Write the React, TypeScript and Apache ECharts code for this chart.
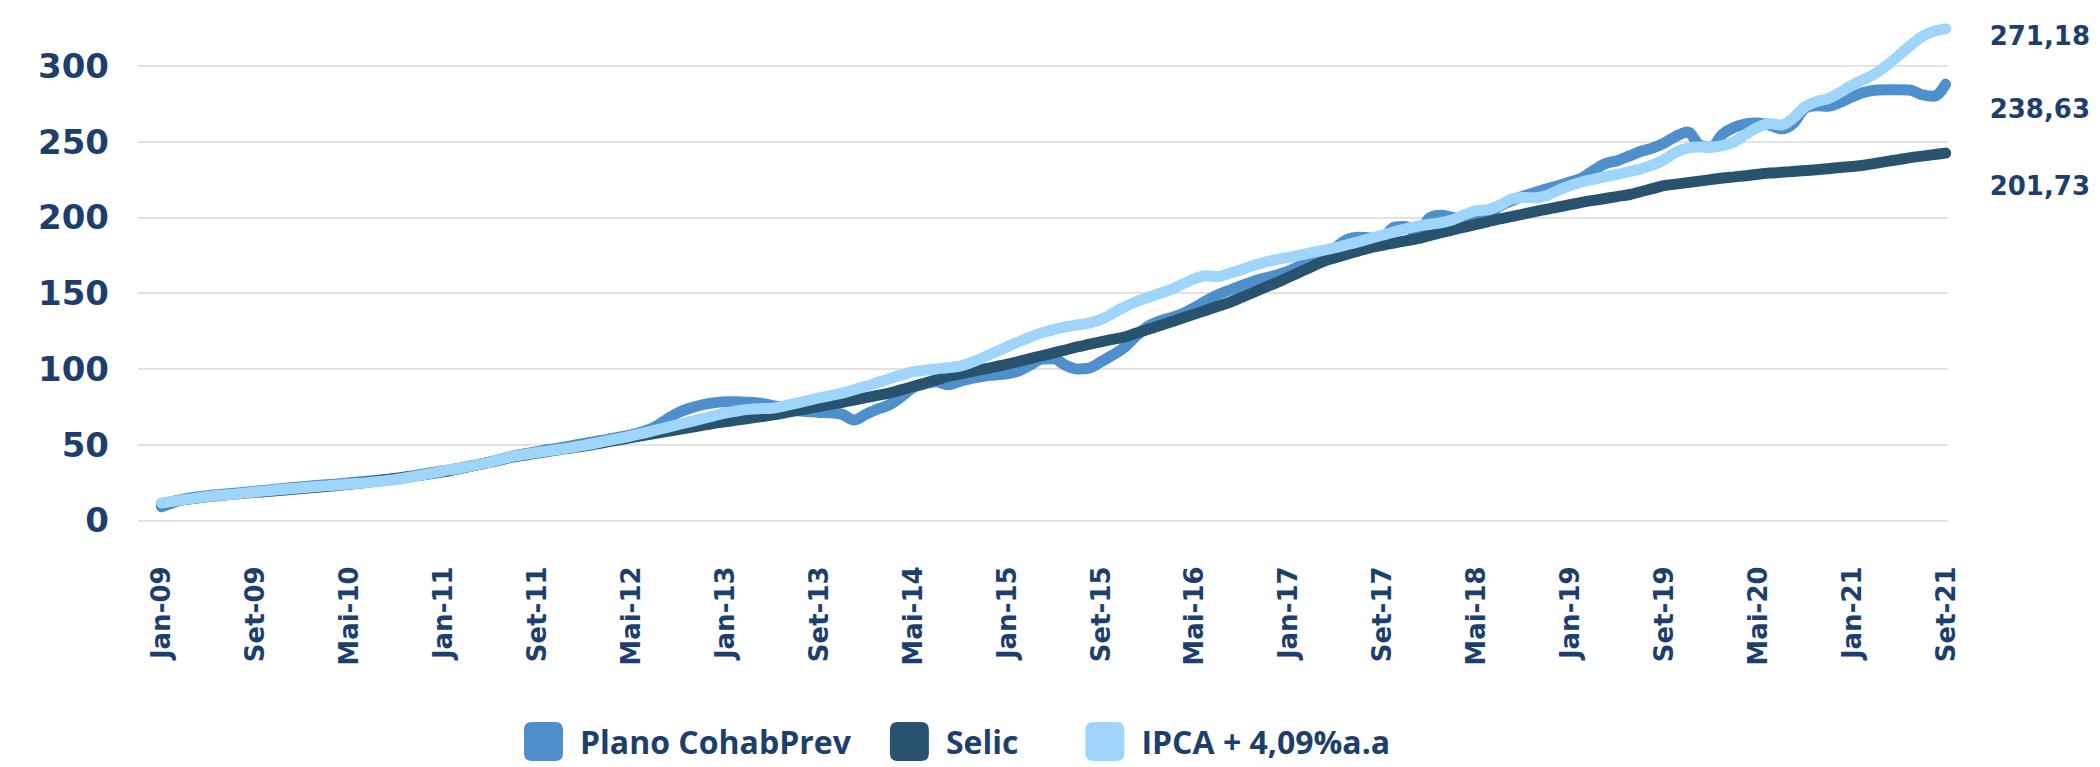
import React, { useEffect, useRef } from "react";
import * as echarts from "echarts";

// Month index 0 = Jan-09 ... 152 = Set-21
const seriesNames = ["Plano CohabPrev", "Selic", "IPCA + 4,09%a.a"];
const seriesColors = ["#4f8fcb", "#28536f", "#a0d5fb"];
const endLabels = ["238,63", "201,73", "271,18"];

const xTickMonths = [0, 8, 16, 24, 32, 40, 48, 56, 64, 72, 80, 88, 96, 104, 112, 120, 128, 136, 144, 152];
const xTickLabels = [
  "Jan-09", "Set-09", "Mai-10", "Jan-11", "Set-11", "Mai-12", "Jan-13", "Set-13", "Mai-14", "Jan-15",
  "Set-15", "Mai-16", "Jan-17", "Set-17", "Mai-18", "Jan-19", "Set-19", "Mai-20", "Jan-21", "Set-21",
];
const yTicks = [0, 50, 100, 150, 200, 250, 300];

const cohabPrev = [
  9.0, 11.8, 14.2, 15.5, 16.4, 17.1, 17.8, 18.5, 19.3, 20.0, 20.8, 21.5, 22.2, 22.9, 23.5, 24.1, 24.8, 25.5, 26.2, 27.0,
  27.8, 29.0, 30.2, 31.5, 32.8, 34.0, 35.4, 36.9, 38.6, 40.6, 42.6, 44.0, 45.4, 46.8, 48.0, 49.4, 50.8, 52.2, 53.5, 55.0,
  56.5, 58.5, 61.5, 66.5, 71.0, 74.0, 76.2, 77.6, 78.3, 78.4, 78.0, 77.3, 76.0, 74.3, 72.7, 71.8, 71.3, 71.0, 70.0, 66.3,
  70.0, 73.5, 76.2, 81.5, 87.5, 90.0, 91.5, 89.6, 91.8, 93.8, 95.2, 96.0, 96.8, 98.5, 102.5, 106.5, 106.8, 102.5, 100.0, 100.5,
  104.5, 109.0, 114.0, 121.5, 128.0, 131.5, 133.8, 136.5, 140.5, 145.0, 149.0, 152.0, 155.0, 157.8, 160.0, 162.0, 164.5, 168.0, 172.0, 176.0,
  180.0, 185.5, 187.0, 186.5, 186.5, 193.5, 194.0, 188.5, 199.5, 201.5, 200.0, 198.5, 197.5, 201.5, 207.5, 211.0, 214.0, 216.5, 218.8, 221.0,
  223.5, 226.0, 231.0, 235.5, 237.5, 240.5, 243.5, 245.8, 249.0, 253.5, 256.5, 248.0, 246.5, 255.0, 259.5, 261.8, 262.3, 261.0, 258.5, 262.0,
  272.0, 273.8, 273.5, 276.0, 279.5, 282.5, 284.0, 284.3, 284.3, 284.0, 281.0, 280.0, 288.0,
];

const selic = [
  11.0, 12.5, 13.8, 14.8, 15.7, 16.5, 17.2, 17.9, 18.5, 19.1, 19.7, 20.4, 21.0, 21.7, 22.4, 23.1, 23.8, 24.7, 25.7, 26.7,
  27.7, 28.7, 29.8, 30.9, 32.0, 33.6, 35.2, 36.8, 38.5, 40.2, 42.0, 43.2, 44.4, 45.6, 46.8, 48.0, 49.0, 50.4, 51.8, 53.2,
  54.6, 56.0, 57.3, 58.6, 60.0, 61.3, 62.6, 64.0, 65.1, 66.2, 67.3, 68.4, 69.5, 70.9, 72.3, 73.7, 75.2, 76.6, 78.0, 79.5,
  81.0, 82.5, 84.0, 86.2, 88.4, 90.6, 92.8, 95.0, 96.6, 98.2, 99.8, 101.4, 103.0, 104.9, 106.8, 108.7, 110.6, 112.5, 114.5, 116.2,
  117.9, 119.5, 121.0, 123.5, 126.0, 128.5, 131.0, 133.6, 136.2, 138.8, 141.4, 144.0, 147.2, 150.5, 153.8, 157.0, 160.5, 164.0, 167.5, 171.0,
  173.4, 175.7, 177.9, 180.0, 181.6, 183.1, 184.6, 186.0, 188.0, 189.9, 191.8, 193.6, 195.4, 197.2, 199.0, 200.6, 202.2, 203.8, 205.4, 206.9,
  208.5, 210.0, 211.3, 212.5, 213.8, 215.0, 217.0, 219.0, 221.0, 222.0, 223.0, 224.0, 225.0, 226.0, 226.8, 227.6, 228.5, 229.3, 229.8, 230.4,
  231.0, 231.5, 232.2, 233.0, 233.7, 234.5, 235.7, 237.0, 238.2, 239.5, 240.5, 241.5, 242.5,
];

const ipca = [
  11.3, 12.6, 13.8, 14.9, 15.8, 16.6, 17.3, 18.0, 18.8, 19.5, 20.2, 20.9, 21.6, 22.2, 22.8, 23.4, 24.0, 24.6, 25.3, 26.1,
  27.0, 28.3, 29.7, 31.1, 32.6, 33.9, 35.3, 36.9, 38.5, 40.5, 42.4, 43.6, 44.8, 45.9, 47.0, 48.2, 49.5, 51.0, 52.6, 54.1,
  55.7, 57.5, 59.4, 61.3, 63.2, 65.1, 67.0, 68.9, 70.8, 72.2, 73.3, 73.8, 74.0, 75.5, 77.2, 79.1, 80.9, 82.4, 84.0, 86.2,
  88.5, 91.0, 93.5, 95.9, 98.0, 99.1, 100.0, 100.8, 101.8, 104.3, 107.5, 111.0, 114.5, 117.8, 121.0, 123.8, 126.0, 127.8, 129.0, 130.2,
  132.5, 136.5, 140.8, 144.2, 147.0, 149.8, 152.4, 156.0, 159.5, 161.5, 161.0, 163.2, 165.5, 168.2, 170.5, 172.2, 173.6, 175.2, 176.8, 178.4,
  180.0, 182.0, 184.0, 186.2, 188.3, 190.5, 192.5, 194.3, 195.5, 196.5, 198.5, 201.8, 204.5, 205.2, 208.0, 212.0, 213.2, 213.0, 214.5, 218.0,
  221.0, 223.4, 225.2, 227.0, 228.5, 230.2, 232.0, 234.5, 238.0, 243.0, 245.8, 246.5, 246.5, 247.5, 250.0, 255.0, 259.5, 262.0, 261.0, 265.5,
  273.0, 276.5, 278.5, 282.5, 287.2, 291.0, 295.0, 300.5, 307.0, 313.5, 319.5, 323.0, 324.5,
];

const seriesValues = [cohabPrev, selic, ipca];
const endLabelOffsets = [
  [36, 25],
  [36, 33],
  [36, 7],
];

const NAVY = "#1e3f6c";
const ROUND_ICON = "path://M8,0L32,0Q40,0,40,8L40,32Q40,40,32,40L8,40Q0,40,0,32L0,8Q0,0,8,0Z";

export default function App() {
  const ref = useRef<HTMLDivElement>(null);

  useEffect(() => {
    if (!ref.current) return;
    const chart = echarts.init(ref.current, undefined, { renderer: "svg" });

    const series = seriesNames.map((name, s) => ({
      name,
      type: "line",
      data: seriesValues[s].map((v, i) => [i, v]),
      showSymbol: false,
      smooth: 0.35,
      clip: false,
      color: seriesColors[s],
      itemStyle: { color: seriesColors[s] },
      lineStyle: { color: seriesColors[s], width: 11, cap: "round", join: "round" },
      endLabel: {
        show: true,
        formatter: () => endLabels[s],
        offset: endLabelOffsets[s],
        align: "left",
        verticalAlign: "middle",
        color: NAVY,
        fontFamily: "DejaVu Sans",
        fontWeight: "bold",
        fontSize: 26,
      },
      emphasis: { disabled: true },
    }));

    chart.setOption({
      animation: false,
      backgroundColor: "#ffffff",
      grid: { left: 138, right: 152, top: 66, bottom: 246.6, containLabel: false },
      legend: {
        data: [
          { name: seriesNames[0] },
          { name: seriesNames[1], textStyle: { padding: [0, 28, 0, 12] } },
          { name: seriesNames[2] },
        ],
        left: 519,
        top: 717,
        icon: ROUND_ICON,
        itemWidth: 39,
        itemHeight: 40,
        itemGap: 39,
        textStyle: {
          color: NAVY,
          fontFamily: "Open Sans",
          fontWeight: "bold",
          fontSize: 32,
          lineHeight: 32,
          padding: [0, 0, 0, 12],
        },
        itemStyle: { borderWidth: 0 },
      },
      xAxis: {
        type: "value",
        min: -2,
        max: 152.2,
        axisLine: { show: false },
        axisTick: { show: false },
        splitLine: { show: false },
        axisLabel: {
          customValues: xTickMonths,
          rotate: 90,
          margin: 46,
          color: NAVY,
          fontFamily: "DejaVu Sans",
          fontWeight: "bold",
          fontSize: 26,
          formatter: (v: number) => {
            const i = xTickMonths.indexOf(Math.round(v));
            return i >= 0 ? xTickLabels[i] : "";
          },
        },
      },
      yAxis: {
        type: "value",
        min: yTicks[0],
        max: yTicks[yTicks.length - 1],
        interval: 50,
        axisLine: { show: false },
        axisTick: { show: false },
        splitLine: { lineStyle: { color: "#d9d9d9", width: 1.5 } },
        axisLabel: {
          margin: 29,
          color: NAVY,
          fontFamily: "DejaVu Sans",
          fontWeight: "bold",
          fontSize: 34,
        },
      },
      series,
    });

    return () => chart.dispose();
  }, []);

  return (
    <div
      ref={ref}
      style={{ position: "absolute", left: 0, top: 0, width: 2100, height: 767, background: "#fff" }}
    />
  );
}
